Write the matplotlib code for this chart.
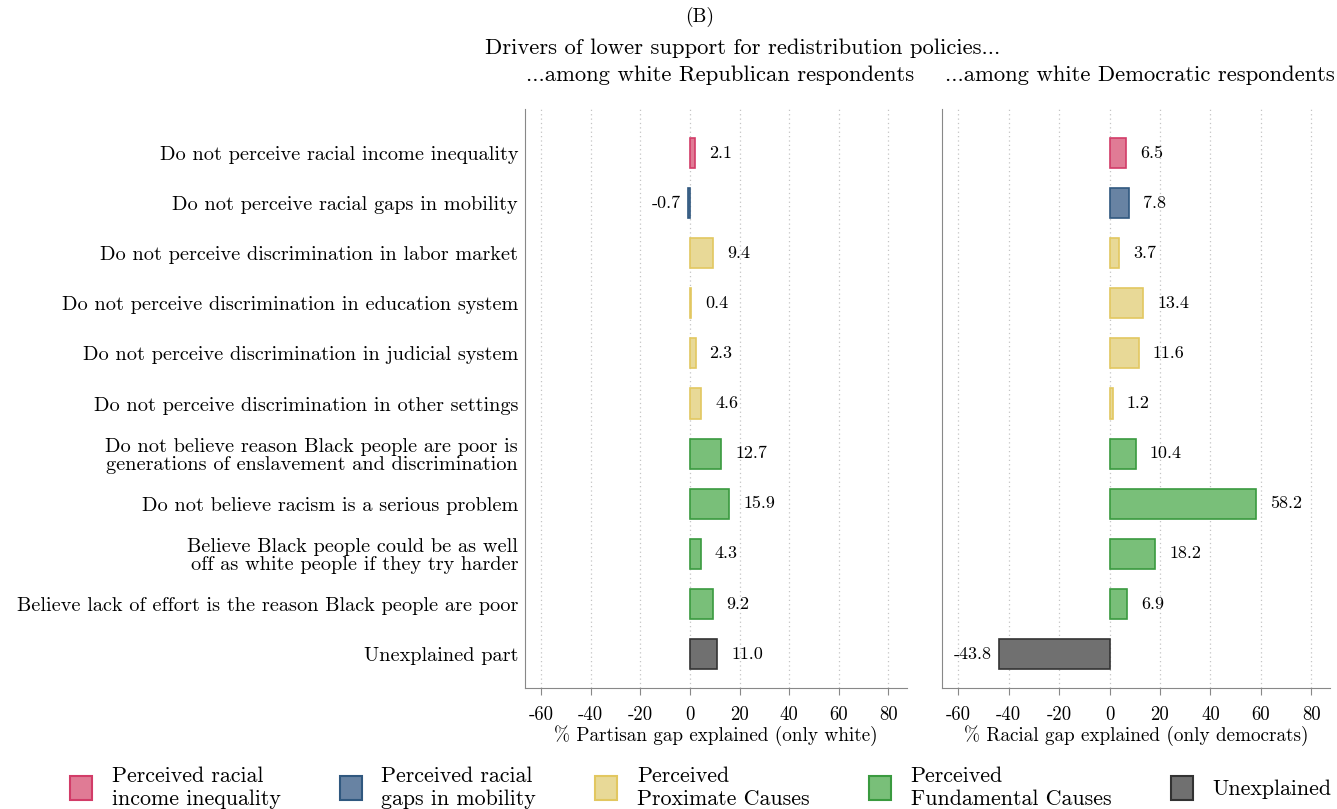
import matplotlib
matplotlib.use('Agg')
import matplotlib.pyplot as plt
from matplotlib.patches import Patch

plt.rcParams['font.family'] = 'serif'
plt.rcParams['font.serif'] = ['cmr10', 'DejaVu Serif']
plt.rcParams['axes.unicode_minus'] = False
plt.rcParams['axes.formatter.use_mathtext'] = True

# Datos
labels = [
    'Do not perceive racial income inequality',
    'Do not perceive racial gaps in mobility',
    'Do not perceive discrimination in labor market',
    'Do not perceive discrimination in education system',
    'Do not perceive discrimination in judicial system',
    'Do not perceive discrimination in other settings',
    'Do not believe reason Black people are poor is\ngenerations of enslavement and discrimination',
    'Do not believe racism is a serious problem',
    'Believe Black people could be as well\noff as white people if they try harder',
    'Believe lack of effort is the reason Black people are poor',
    'Unexplained part',
]
groups = [0, 1, 2, 2, 2, 2, 3, 3, 3, 3, 4]
republican = [2.1, -0.7, 9.4, 0.4, 2.3, 4.6, 12.7, 15.9, 4.3, 9.2, 11.0]
democrat = [6.5, 7.8, 3.7, 13.4, 11.6, 1.2, 10.4, 58.2, 18.2, 6.9, -43.8]
group_names = ['Perceived racial\nincome inequality', 'Perceived racial\ngaps in mobility',
               'Perceived\nProximate Causes', 'Perceived\nFundamental Causes', 'Unexplained']
xticks = [-60, -40, -20, 0, 20, 40, 60, 80]

fills = ['#e07b95', '#6883a3', '#e8d997', '#79bf79', '#707070']
edges = ['#d23c68', '#30587f', '#e2c760', '#3a9a3f', '#333333']

W, H = 1337, 809
fig = plt.figure(figsize=(W / 100, H / 100), dpi=100)
ax1 = fig.add_axes([525 / W, 1 - 688 / H, 382 / W, 579 / H])
ax2 = fig.add_axes([942 / W, 1 - 688 / H, 388 / W, 579 / H])

ypos = list(range(len(labels)))


def dibujar(ax, valores, xlabel):
    for y, v, g in zip(ypos, valores, groups):
        ax.barh(y, v, height=0.6, color=fills[g], edgecolor=edges[g], linewidth=1.2, zorder=3)
        if v >= 0:
            ax.annotate(f'{v:.1f}', (v, y), xytext=(10, 0), textcoords='offset points',
                        va='center', ha='left', fontsize=13)
        else:
            ax.annotate(f'{v:.1f}', (v, y), xytext=(-5, 0), textcoords='offset points',
                        va='center', ha='right', fontsize=13)
    ax.set_ylim(10.68, -0.88)
    ax.set_xlim(-66.5, 87.5)
    ax.set_xticks(xticks)
    ax.set_xticklabels([str(t) for t in xticks], fontsize=13.5)
    ax.set_xlabel(xlabel, fontsize=13.8, labelpad=1)
    ax.grid(axis='x', linestyle=(0, (1, 2.5)), color='#c4c4c4', linewidth=0.9, zorder=0)
    ax.spines['top'].set_visible(False)
    ax.spines['right'].set_visible(False)
    ax.spines['left'].set_color('#888888')
    ax.spines['bottom'].set_color('#888888')
    ax.tick_params(axis='x', color='#888888', length=5, pad=8)
    ax.tick_params(axis='y', length=0)


dibujar(ax1, republican, '% Partisan gap explained (only white)')
dibujar(ax2, democrat, '% Racial gap explained (only democrats)')

ax1.set_yticks(ypos)
ax1.set_yticklabels(labels, fontsize=14.6, linespacing=1.0)
ax1.tick_params(axis='y', pad=5)
ax2.set_yticks([])

fig.text(700 / W, 1 - 17 / H, '(B)', ha='center', va='center', fontsize=14)
fig.text(743 / W, 1 - 48 / H, 'Drivers of lower support for redistribution policies...',
         ha='center', va='center', fontsize=16.3)
fig.text(720 / W, 1 - 75 / H, '...among white Republican respondents',
         ha='center', va='center', fontsize=16.3)
fig.text(1140 / W, 1 - 75 / H, '...among white Democratic respondents',
         ha='center', va='center', fontsize=16.3)

handles = [Patch(facecolor=fills[i], edgecolor=edges[i], linewidth=1.5) for i in range(5)]
fig.legend(handles, group_names, loc='lower center', ncol=5, frameon=False,
           bbox_to_anchor=(0.524, -0.024), fontsize=15.8, handlelength=1.0, handleheight=1.3,
           columnspacing=2.7, handletextpad=0.9, labelspacing=0.2)

fig.savefig('out.png', dpi=100)
